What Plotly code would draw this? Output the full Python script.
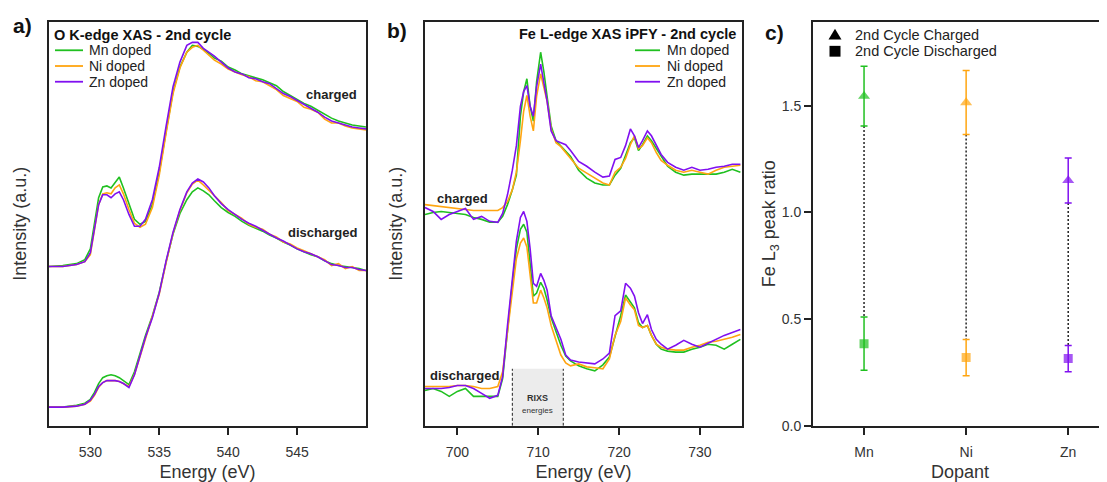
import plotly.graph_objects as go

# ---------------- Panel a: O K-edge XAS ----------------
energy_o = [527, 528, 529, 529.6, 530.0, 530.3, 530.6, 530.9, 531.2, 531.5, 531.8, 532.1, 532.4, 532.8,
            533.2, 533.6, 534.0, 534.5, 535.0, 535.5, 536.0, 536.5, 537.0, 537.4, 537.8, 538.2, 538.6,
            539.0, 539.5, 540.0, 540.5, 541.0, 541.5, 542.0, 542.5, 543.0, 543.5, 544.0, 544.5, 545.0,
            545.5, 546.0, 546.5, 547.0, 547.5, 548.0, 548.5, 549.0, 549.5, 550.0]

o_chg_mn = [1.62, 1.63, 1.65, 1.69, 1.80, 2.05, 2.32, 2.43, 2.44, 2.42, 2.48, 2.53, 2.42, 2.25,
            2.10, 2.05, 2.08, 2.25, 2.58, 3.00, 3.40, 3.65, 3.80, 3.87, 3.86, 3.83, 3.79,
            3.74, 3.71, 3.65, 3.62, 3.58, 3.56, 3.54, 3.52, 3.49, 3.46, 3.40, 3.36, 3.32,
            3.28, 3.25, 3.21, 3.17, 3.13, 3.10, 3.08, 3.06, 3.05, 3.04]
o_chg_ni = [1.62, 1.62, 1.64, 1.67, 1.74, 1.98, 2.25, 2.36, 2.37, 2.36, 2.42, 2.45, 2.36, 2.20,
            2.06, 2.02, 2.05, 2.22, 2.55, 2.98, 3.38, 3.64, 3.80, 3.85, 3.87, 3.82, 3.77,
            3.72, 3.68, 3.63, 3.60, 3.57, 3.55, 3.51, 3.50, 3.46, 3.42, 3.36, 3.33, 3.30,
            3.24, 3.22, 3.19, 3.12, 3.08, 3.08, 3.05, 3.03, 3.02, 3.01]
o_chg_zn = [1.62, 1.62, 1.64, 1.67, 1.76, 2.00, 2.25, 2.35, 2.35, 2.32, 2.36, 2.38, 2.30, 2.15,
            2.03, 2.03, 2.10, 2.30, 2.63, 3.05, 3.45, 3.70, 3.87, 3.90, 3.90, 3.84, 3.80,
            3.76, 3.70, 3.64, 3.60, 3.58, 3.54, 3.53, 3.50, 3.48, 3.43, 3.38, 3.35, 3.31,
            3.27, 3.23, 3.19, 3.14, 3.10, 3.08, 3.06, 3.04, 3.03, 3.02]

o_dis_mn = [0.19, 0.19, 0.21, 0.23, 0.27, 0.34, 0.43, 0.49, 0.51, 0.52, 0.51, 0.49, 0.46, 0.42,
            0.55, 0.74, 0.92, 1.12, 1.36, 1.67, 1.95, 2.16, 2.30, 2.38, 2.42, 2.39, 2.35,
            2.29, 2.22, 2.17, 2.13, 2.08, 2.04, 2.01, 1.98, 1.94, 1.91, 1.87, 1.84, 1.80,
            1.77, 1.74, 1.72, 1.68, 1.65, 1.63, 1.62, 1.61, 1.60, 1.58]
o_dis_ni = [0.19, 0.19, 0.20, 0.22, 0.25, 0.31, 0.39, 0.44, 0.46, 0.46, 0.46, 0.45, 0.43, 0.40,
            0.52, 0.70, 0.89, 1.09, 1.34, 1.66, 1.96, 2.19, 2.37, 2.46, 2.50, 2.45, 2.40,
            2.34, 2.27, 2.19, 2.15, 2.11, 2.05, 2.02, 2.00, 1.95, 1.92, 1.87, 1.85, 1.81,
            1.78, 1.75, 1.72, 1.69, 1.63, 1.65, 1.60, 1.62, 1.58, 1.58]
o_dis_zn = [0.19, 0.19, 0.20, 0.22, 0.26, 0.32, 0.40, 0.44, 0.46, 0.46, 0.46, 0.45, 0.43, 0.39,
            0.52, 0.71, 0.90, 1.10, 1.35, 1.68, 1.97, 2.20, 2.38, 2.47, 2.51, 2.48, 2.42,
            2.34, 2.26, 2.20, 2.15, 2.10, 2.06, 2.03, 1.99, 1.95, 1.91, 1.88, 1.84, 1.80,
            1.77, 1.75, 1.72, 1.68, 1.64, 1.63, 1.61, 1.61, 1.59, 1.58]

# ---------------- Panel b: Fe L-edge XAS iPFY ----------------
energy_fe = [696, 697, 698, 699, 700, 701, 702, 703, 704, 705, 705.6, 706.2, 706.8, 707.3, 707.8,
             708.2, 708.6, 709.0, 709.4, 709.8, 710.3, 710.7, 711.1, 711.6, 712.2, 712.8, 713.4,
             714.0, 715.0, 716.0, 717.0, 718.0, 718.8, 719.5, 720.2, 720.8, 721.4, 721.9, 722.4,
             722.9, 723.5, 724.0, 724.6, 725.2, 726.0, 727.0, 728.0, 729.0, 730.0, 731.0, 732.0,
             733.0, 734.0, 735.0]

fe_chg_mn = [2.15, 2.17, 2.18, 2.17, 2.16, 2.15, 2.12, 2.10, 2.07, 2.07, 2.13, 2.25, 2.40, 2.55, 3.15,
             3.40, 3.53, 3.25, 3.10, 3.50, 3.80, 3.60, 3.35, 3.05, 2.90, 2.85, 2.80,
             2.74, 2.60, 2.52, 2.47, 2.45, 2.45, 2.55, 2.62, 2.75, 2.88, 2.93, 2.80,
             2.86, 2.95, 2.90, 2.82, 2.74, 2.64, 2.58, 2.55, 2.56, 2.56, 2.56, 2.56,
             2.58, 2.61, 2.58]
fe_chg_ni = [2.25, 2.24, 2.23, 2.22, 2.21, 2.20, 2.19, 2.19, 2.19, 2.19, 2.22, 2.28, 2.40, 2.58, 2.90,
             3.20, 3.36, 3.15, 3.00, 3.35, 3.58, 3.45, 3.30, 3.02, 2.88, 2.84, 2.78,
             2.72, 2.62, 2.57, 2.52, 2.47, 2.45, 2.58, 2.63, 2.72, 2.86, 2.95, 2.82,
             2.85, 2.93, 2.88, 2.78, 2.70, 2.65, 2.60, 2.58, 2.60, 2.58, 2.56, 2.60,
             2.63, 2.64, 2.65]
fe_chg_zn = [2.22, 2.18, 2.10, 2.15, 2.18, 2.21, 2.10, 2.13, 2.08, 2.07, 2.16, 2.35, 2.60, 2.85, 3.25,
             3.40, 3.46, 3.25, 3.15, 3.45, 3.68, 3.50, 3.30, 3.00, 2.90, 2.88, 2.86,
             2.80, 2.69, 2.64, 2.58, 2.53, 2.54, 2.71, 2.73, 2.85, 3.02, 2.95, 2.83,
             2.90, 3.00, 2.95, 2.85, 2.76, 2.68, 2.63, 2.60, 2.63, 2.60, 2.61, 2.63,
             2.64, 2.66, 2.66]

fe_dis_mn = [0.36, 0.38, 0.35, 0.30, 0.35, 0.38, 0.30, 0.30, 0.30, 0.30, 0.48, 1.00, 1.45, 1.80, 2.00,
             2.05, 1.97, 1.65, 1.32, 1.35, 1.46, 1.40, 1.28, 1.10, 0.95, 0.82, 0.71,
             0.66, 0.61, 0.58, 0.56, 0.62, 0.70, 0.90, 1.12, 1.33, 1.26, 1.20, 1.05,
             1.00, 1.02, 0.92, 0.83, 0.78, 0.76, 0.75, 0.75, 0.78, 0.80, 0.83, 0.82,
             0.78, 0.83, 0.88]
fe_dis_ni = [0.40, 0.40, 0.40, 0.40, 0.41, 0.41, 0.40, 0.38, 0.38, 0.40, 0.55, 0.95, 1.38, 1.70, 1.86,
             1.91, 1.82, 1.55, 1.25, 1.25, 1.38, 1.30, 1.20, 1.02, 0.88, 0.72, 0.64,
             0.61, 0.63, 0.60, 0.59, 0.58, 0.68, 0.92, 1.06, 1.30, 1.23, 1.18, 1.02,
             1.00, 1.02, 0.92, 0.83, 0.80, 0.78, 0.77, 0.77, 0.80, 0.82, 0.85, 0.86,
             0.88, 0.90, 0.93]
fe_dis_zn = [0.38, 0.38, 0.38, 0.39, 0.41, 0.41, 0.38, 0.33, 0.28, 0.31, 0.50, 1.02, 1.50, 1.88, 2.12,
             2.18, 2.08, 1.80, 1.45, 1.42, 1.55, 1.48, 1.38, 1.12, 1.00, 0.88, 0.72,
             0.67, 0.65, 0.64, 0.63, 0.68, 0.74, 1.12, 1.17, 1.45, 1.40, 1.32, 1.15,
             1.04, 1.13, 0.98, 0.88, 0.83, 0.78, 0.82, 0.87, 0.83, 0.80, 0.84, 0.88,
             0.92, 0.95, 0.98]

rixs_range = [706.8, 713.1]
rixs_height = 0.58

# ---------------- Panel c: Fe L3 peak ratio ----------------
dopants = ["Mn", "Ni", "Zn"]
ratio_charged = [1.545, 1.515, 1.150]
ratio_charged_err = [0.140, 0.150, 0.105]
ratio_discharged = [0.385, 0.320, 0.315]
ratio_discharged_err = [0.125, 0.085, 0.062]

series_names = ["Mn doped", "Ni doped", "Zn doped"]
state_names = ["2nd Cycle Charged", "2nd Cycle Discharged"]
colors = ["#20c020", "#ffa510", "#8010f0"]

FONT = "Liberation Sans, Arial, sans-serif"
AXC = "#222222"
TXT = "#222222"

# page geometry (the page body has an 8px margin)
OFF = 8
W, H = 1107 - OFF, 482 - OFF


def px_x(p):
    return (p - OFF) / W


def px_y(p):
    return (H - (p - OFF)) / H


fig = go.Figure()

o_chg = [o_chg_mn, o_chg_ni, o_chg_zn]
o_dis = [o_dis_mn, o_dis_ni, o_dis_zn]
fe_chg = [fe_chg_mn, fe_chg_ni, fe_chg_zn]
fe_dis = [fe_dis_mn, fe_dis_ni, fe_dis_zn]

for grp, ax in ((o_chg, ("x", "y")), (o_dis, ("x", "y")), (fe_chg, ("x2", "y2")), (fe_dis, ("x2", "y2"))):
    energies = energy_o if ax[0] == "x" else energy_fe
    for i in range(3):
        fig.add_trace(go.Scatter(x=energies, y=grp[i], mode="lines", name=series_names[i],
                                 line=dict(color=colors[i], width=1.6),
                                 xaxis=ax[0], yaxis=ax[1], showlegend=False))

# Panel c connectors (dotted) from charged lower error to discharged upper error
conn_x, conn_y = [], []
for i in range(3):
    conn_x += [i, i, None]
    conn_y += [ratio_charged[i] - ratio_charged_err[i],
               ratio_discharged[i] + ratio_discharged_err[i], None]
fig.add_trace(go.Scatter(x=conn_x, y=conn_y, mode="lines", showlegend=False,
                         line=dict(color="#222222", width=1.5, dash="2px,2px"),
                         xaxis="x3", yaxis="y3", hoverinfo="skip"))

for i in range(3):
    fig.add_trace(go.Scatter(
        x=[i, i], y=[ratio_charged[i], ratio_discharged[i]], mode="markers",
        marker=dict(color=colors[i], symbol=["triangle-up", "square"], size=[10.5, 9],
                    line=dict(width=0)),
        error_y=dict(type="data", array=[ratio_charged_err[i], ratio_discharged_err[i]],
                     color=colors[i], thickness=1.5, width=3.5),
        showlegend=False, xaxis="x3", yaxis="y3", name=dopants[i]))

ydom = [px_y(433), px_y(22)]

tickfont = dict(size=14, color="#333333", family=FONT)
titlefont = dict(size=18, color="#333333", family=FONT)
common_x = dict(showline=True, linewidth=2, linecolor=AXC, mirror=True, ticks="outside",
                ticklen=7, tickwidth=1.5, tickcolor=AXC, showgrid=False, zeroline=False,
                tickfont=tickfont, ticklabelstandoff=5, title_font=titlefont)
common_y = dict(showline=True, linewidth=2, linecolor=AXC, mirror=True, ticks="",
                showticklabels=False, showgrid=False, zeroline=False, range=[0, 4.11],
                title_font=titlefont, domain=ydom)

fig.update_layout(
    width=W, height=H,
    margin=dict(l=0, r=0, t=0, b=0),
    paper_bgcolor="white", plot_bgcolor="white",
    font=dict(family=FONT, color=TXT),
    showlegend=False,
    xaxis=dict(common_x, domain=[px_x(49), px_x(366)], range=[527, 550],
               tickvals=[530, 535, 540, 545], anchor="y",
               title=dict(text="Energy (eV)", standoff=10)),
    yaxis=dict(common_y, anchor="x", title=dict(text="Intensity (a.u.)", standoff=16)),
    xaxis2=dict(common_x, domain=[px_x(425), px_x(742)], range=[696, 735.2],
                tickvals=[700, 710, 720, 730], anchor="y2",
                title=dict(text="Energy (eV)", standoff=10)),
    yaxis2=dict(common_y, anchor="x2", title=dict(text="Intensity (a.u.)", standoff=16)),
    xaxis3=dict(common_x, domain=[px_x(813), 1.0], range=[-0.5, 2.38],
                tickvals=[0, 1, 2], ticktext=dopants, anchor="y3",
                title=dict(text="Dopant", standoff=10)),
    yaxis3=dict(showline=True, linewidth=2, linecolor=AXC, mirror=False, ticks="outside",
                ticklen=7, tickwidth=1.5, tickcolor=AXC, showgrid=False, zeroline=False,
                range=[0, 1.894], tickvals=[0, 0.5, 1.0, 1.5], tickformat=".1f",
                tickfont=tickfont, domain=ydom, anchor="x3",
                title=dict(text="Fe L<sub>3</sub> peak ratio", standoff=0, font=titlefont)),
)

shapes = [
    dict(type="rect", xref="x2", yref="y2", x0=rixs_range[0], x1=rixs_range[1], y0=0, y1=rixs_height,
         fillcolor="#ececec", line=dict(width=0), layer="below"),
    dict(type="line", xref="x2", yref="y2", x0=rixs_range[0], x1=rixs_range[0], y0=0, y1=rixs_height,
         line=dict(color="#222", width=1, dash="3px,2px"), layer="below"),
    dict(type="line", xref="x2", yref="y2", x0=rixs_range[1], x1=rixs_range[1], y0=0, y1=rixs_height,
         line=dict(color="#222", width=1, dash="3px,2px"), layer="below"),
]

rixs_mid = (rixs_range[0] + rixs_range[1]) / 2
panel_font = dict(size=21, family=FONT, color="#111")
annots = [
    dict(text="<b>a)</b>", xref="paper", yref="paper", x=px_x(22), y=px_y(26), showarrow=False,
         xanchor="center", yanchor="middle", font=panel_font),
    dict(text="<b>b)</b>", xref="paper", yref="paper", x=px_x(397), y=px_y(31), showarrow=False,
         xanchor="center", yanchor="middle", font=panel_font),
    dict(text="<b>c)</b>", xref="paper", yref="paper", x=px_x(774), y=px_y(33), showarrow=False,
         xanchor="center", yanchor="middle", font=panel_font),
    dict(text="<b>charged</b>", xref="x", yref="y", x=549.5, y=3.37, xanchor="right", showarrow=False,
         font=dict(size=13, family=FONT, color=TXT)),
    dict(text="<b>discharged</b>", xref="x", yref="y", x=549.5, y=1.97, xanchor="right", showarrow=False,
         font=dict(size=13, family=FONT, color=TXT)),
    dict(text="<b>charged</b>", xref="x2", yref="y2", x=697.2, y=2.31, xanchor="left", showarrow=False,
         font=dict(size=13, family=FONT, color=TXT)),
    dict(text="<b>discharged</b>", xref="x2", yref="y2", x=696.4, y=0.51, xanchor="left", showarrow=False,
         font=dict(size=13, family=FONT, color=TXT)),
    dict(text="<b>RIXS</b>", xref="x2", yref="y2", x=rixs_mid, y=0.28, showarrow=False,
         font=dict(size=9, family=FONT, color="#333")),
    dict(text="energies", xref="x2", yref="y2", x=rixs_mid, y=0.16, showarrow=False,
         font=dict(size=8, family=FONT, color="#333")),
]

# ---- legends (drawn in page space) ----
leg_rows = [51, 67, 83]
# panel a
annots.append(dict(text="<b>O K-edge XAS - 2nd cycle</b>", xref="paper", yref="paper",
                   x=px_x(52), y=px_y(35), xanchor="left", yanchor="middle", showarrow=False,
                   font=dict(size=14.5, family=FONT, color="#111")))
for i, yy in enumerate(leg_rows):
    shapes.append(dict(type="line", xref="paper", yref="paper", x0=px_x(55), x1=px_x(83),
                       y0=px_y(yy), y1=px_y(yy), line=dict(color=colors[i], width=1.8)))
    annots.append(dict(text=series_names[i], xref="paper", yref="paper", x=px_x(87), y=px_y(yy),
                       xanchor="left", yanchor="middle", showarrow=False,
                       font=dict(size=14, family=FONT, color=TXT)))
# panel b
annots.append(dict(text="<b>Fe L-edge XAS iPFY - 2nd cycle</b>", xref="paper", yref="paper",
                   x=px_x(738), y=px_y(34), xanchor="right", yanchor="middle", showarrow=False,
                   font=dict(size=14.5, family=FONT, color="#111")))
for i, yy in enumerate(leg_rows):
    shapes.append(dict(type="line", xref="paper", yref="paper", x0=px_x(635), x1=px_x(660),
                       y0=px_y(yy), y1=px_y(yy), line=dict(color=colors[i], width=1.8)))
    annots.append(dict(text=series_names[i], xref="paper", yref="paper", x=px_x(665), y=px_y(yy),
                       xanchor="left", yanchor="middle", showarrow=False,
                       font=dict(size=14, family=FONT, color=TXT)))
# panel c
cx, ty, sy = 835, 35, 52
tri = "M {:.5f},{:.5f} L {:.5f},{:.5f} L {:.5f},{:.5f} Z".format(
    px_x(cx - 6.5), px_y(ty + 5), px_x(cx + 6.5), px_y(ty + 5), px_x(cx), px_y(ty - 6))
shapes.append(dict(type="path", xref="paper", yref="paper", path=tri, fillcolor="black",
                   line=dict(width=0)))
shapes.append(dict(type="rect", xref="paper", yref="paper", x0=px_x(cx - 5.5), x1=px_x(cx + 5.5),
                   y0=px_y(sy + 5.5), y1=px_y(sy - 5.5), fillcolor="black", line=dict(width=0)))
for name, yy in zip(state_names, [ty, sy]):
    annots.append(dict(text=name, xref="paper", yref="paper", x=px_x(853), y=px_y(yy),
                       xanchor="left", yanchor="middle", showarrow=False,
                       font=dict(size=14.5, family=FONT, color=TXT)))

fig.update_layout(shapes=shapes, annotations=annots)

fig.write_html("out.html")
